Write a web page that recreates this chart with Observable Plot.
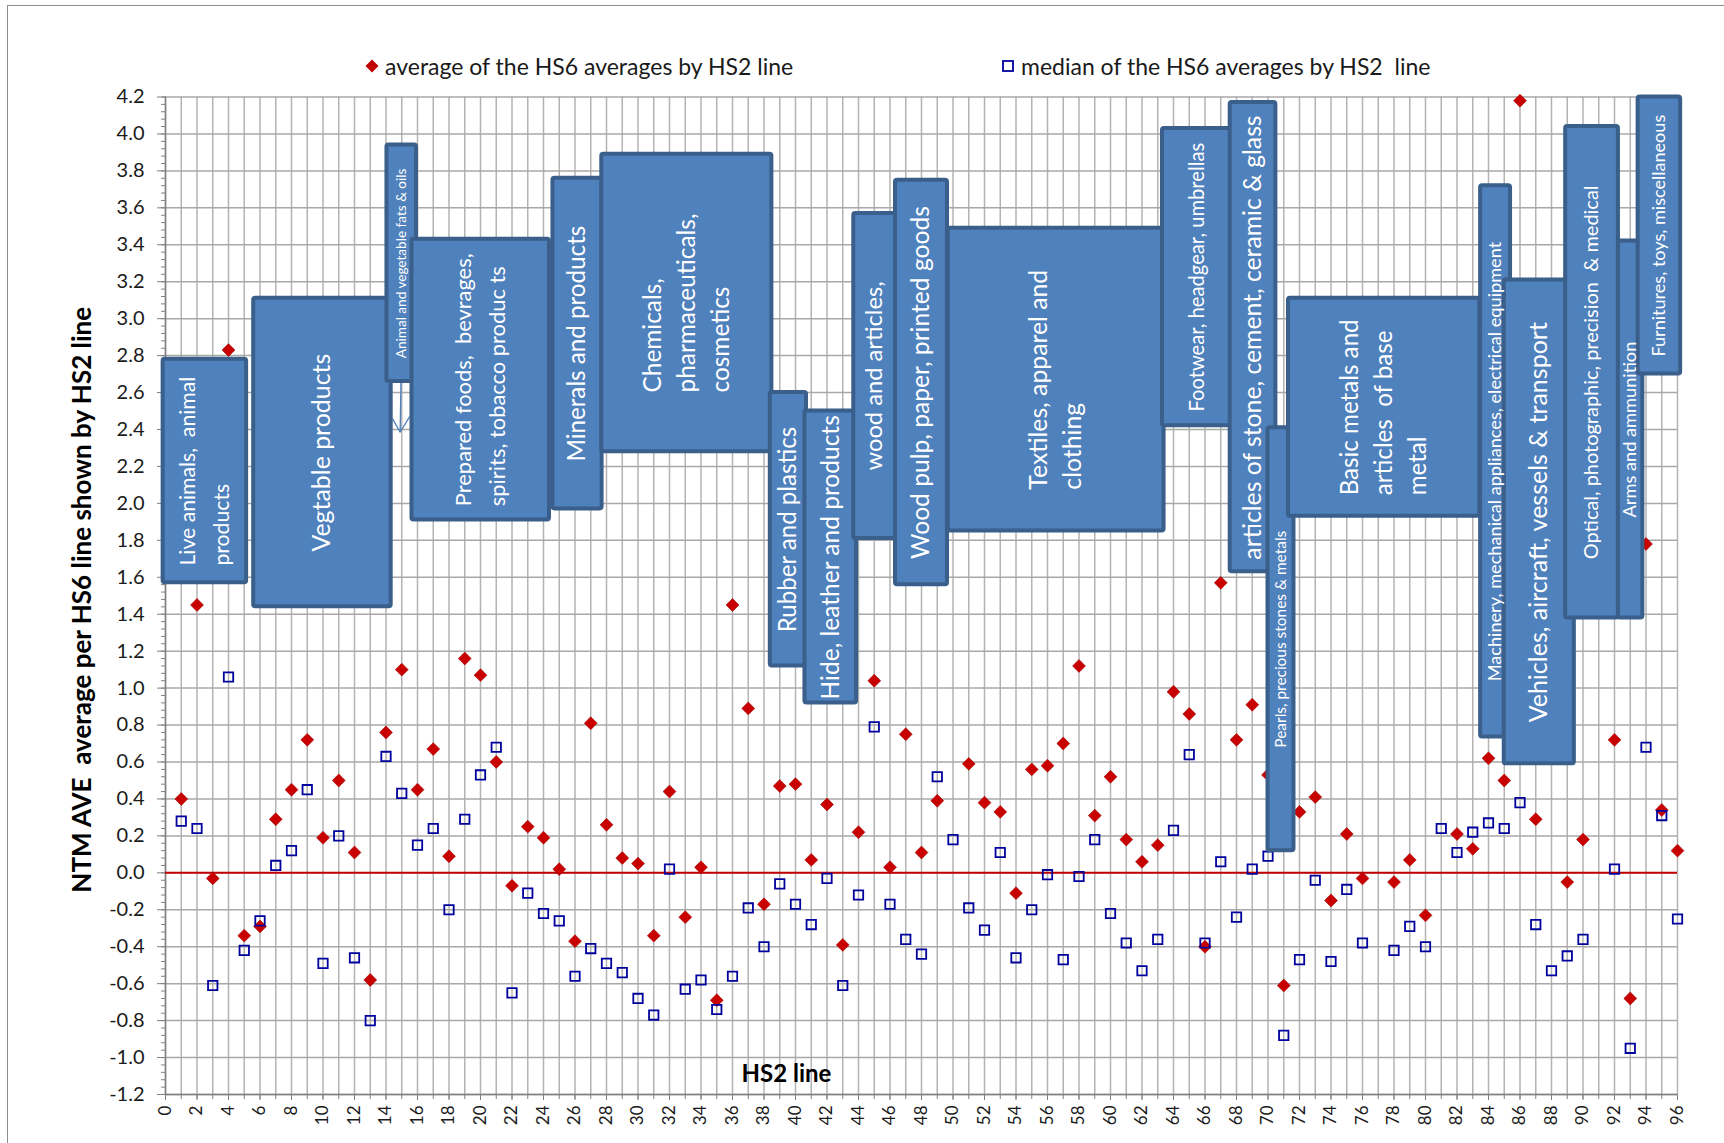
<!DOCTYPE html>
<html><head><meta charset="utf-8">
<script src="https://cdn.jsdelivr.net/npm/d3@7"></script>
<script src="https://cdn.jsdelivr.net/npm/@observablehq/plot@0.6"></script>
<style>
html,body{margin:0;padding:0;background:#fff;}
body{position:relative;width:1724px;height:1143px;overflow:hidden;font-family:Lato,"Open Sans",sans-serif;}
#border{position:absolute;z-index:5;left:7px;top:5px;width:1800px;height:1300px;border-left:1.5px solid #8c8c8c;border-top:1.5px solid #8c8c8c;pointer-events:none;}
#legend{position:relative;height:84px;}
.item{position:absolute;top:54px;height:24px;display:flex;align-items:center;font-size:23px;color:#1a1a1a;white-space:nowrap;}
.item svg{margin-right:5px;}
#chart{position:relative;}
</style></head>
<body>
<div id="border"></div>
<div id="legend">
  <div class="item" style="left:364px"><svg width="16" height="16"><path d="M8 1.5 L14.5 8 L8 14.5 L1.5 8Z" fill="#c00000"/></svg><span>average of the HS6 averages by HS2 line</span></div>
  <div class="item" style="left:1000px"><svg width="16" height="16"><rect x="3" y="3" width="10" height="10" fill="none" stroke="#00009c" stroke-width="1.8"/></svg><span>median of the HS6 averages by HS2&nbsp; line</span></div>
</div>
<div id="chart"></div>
<script>
// ---------- data ----------
const hs = d3.range(1, 97);
const avgValues = [
  0.40, 1.45, -0.03, 2.83, -0.34, -0.29, 0.29, 0.45, 0.72, 0.19,
  0.50, 0.11, -0.58, 0.76, 1.10, 0.45, 0.67, 0.09, 1.16, 1.07,
  0.60, -0.07, 0.25, 0.19, 0.02, -0.37, 0.81, 0.26, 0.08, 0.05,
  -0.34, 0.44, -0.24, 0.03, -0.69, 1.45, 0.89, -0.17, 0.47, 0.48,
  0.07, 0.37, -0.39, 0.22, 1.04, 0.03, 0.75, 0.11, 0.39, null,
  0.59, 0.38, 0.33, -0.11, 0.56, 0.58, 0.70, 1.12, 0.31, 0.52,
  0.18, 0.06, 0.15, 0.98, 0.86, -0.40, 1.57, 0.72, 0.91, 0.53,
  -0.61, 0.33, 0.41, -0.15, 0.21, -0.03, null, -0.05, 0.07, -0.23,
  null, 0.21, 0.13, 0.62, 0.50, 4.18, 0.29, null, -0.05, 0.18,
  null, 0.72, -0.68, 1.78, 0.34, 0.12
];
const medValues = [
  0.28, 0.24, -0.61, 1.06, -0.42, -0.26, 0.04, 0.12, 0.45, -0.49,
  0.20, -0.46, -0.80, 0.63, 0.43, 0.15, 0.24, -0.20, 0.29, 0.53,
  0.68, -0.65, -0.11, -0.22, -0.26, -0.56, -0.41, -0.49, -0.54, -0.68,
  -0.77, 0.02, -0.63, -0.58, -0.74, -0.56, -0.19, -0.40, -0.06, -0.17,
  -0.28, -0.03, -0.61, -0.12, 0.79, -0.17, -0.36, -0.44, 0.52, 0.18,
  -0.19, -0.31, 0.11, -0.46, -0.20, -0.01, -0.47, -0.02, 0.18, -0.22,
  -0.38, -0.53, -0.36, 0.23, 0.64, -0.38, 0.06, -0.24, 0.02, 0.09,
  -0.88, -0.47, -0.04, -0.48, -0.09, -0.38, null, -0.42, -0.29, -0.40,
  0.24, 0.11, 0.22, 0.27, 0.24, 0.38, -0.28, -0.53, -0.45, -0.36,
  null, 0.02, -0.95, 0.68, 0.31, -0.25
];
const seriesNames = ["average of the HS6 averages by HS2 line", "median of the HS6 averages by HS2 line"];
const yTicks = d3.range(-6, 22).map(i => i / 5);
const yMinor = d3.range(-30, 106).map(i => i / 25);
const xGrid = d3.range(0, 97);
const xLabels = d3.range(0, 97, 2);

// section annotation boxes (HS2 ranges in chart units)
const sections = [
  {lines: ["Live animals,\u00a0 animal", "products"], x1: -0.15, x2: 5.15, y1: 1.57, y2: 2.78},
  {lines: ["Vegtable products"], x1: 5.6, x2: 14.33, y1: 1.44, y2: 3.11},
  {lines: ["Animal and vegetable fats & oils"], x1: 14.06, x2: 15.94, y1: 2.66, y2: 3.94},
  {lines: ["Prepared foods,\u00a0 bevrages,", "spirits, tobacco produc ts"], x1: 15.65, x2: 24.38, y1: 1.91, y2: 3.43},
  {lines: ["Minerals and products"], x1: 24.6, x2: 27.72, y1: 1.97, y2: 3.76},
  {lines: ["Chemicals,", "pharmaceuticals,", "cosmetics"], x1: 27.7, x2: 38.5, y1: 2.28, y2: 3.89},
  {lines: ["Rubber and plastics"], x1: 38.4, x2: 40.7, y1: 1.12, y2: 2.6},
  {lines: ["Hide, leather and products"], x1: 40.6, x2: 43.88, y1: 0.92, y2: 2.5},
  {lines: ["wood and articles,"], x1: 43.7, x2: 46.35, y1: 1.81, y2: 3.57},
  {lines: ["Wood pulp, paper, printed goods"], x1: 46.35, x2: 49.65, y1: 1.56, y2: 3.75},
  {lines: ["Textiles, apparel and", "clothing"], x1: 49.7, x2: 63.4, y1: 1.85, y2: 3.49},
  {lines: ["Footwear, headgear, umbrellas"], x1: 63.3, x2: 67.7, y1: 2.42, y2: 4.03},
  {lines: ["articles of stone, cement, ceramic & glass"], x1: 67.6, x2: 70.5, y1: 1.63, y2: 4.17},
  {lines: ["Pearls, precious stones & metals"], x1: 70.0, x2: 71.65, y1: 0.12, y2: 2.41},
  {lines: ["Basic metals and", "articles\u00a0 of base", "metal"], x1: 71.3, x2: 83.45, y1: 1.93, y2: 3.11},
  {lines: ["Machinery, mechanical appliances, electrical equipment"], x1: 83.5, x2: 85.4, y1: 0.735, y2: 3.72},
  {lines: ["Vehicles, aircraft, vessels & transport"], x1: 85.0, x2: 89.45, y1: 0.59, y2: 3.21},
  {lines: ["Optical, photographic, precision\u00a0 & medical"], x1: 88.9, x2: 92.25, y1: 1.38, y2: 4.04},
  {lines: ["Arms and ammunition"], x1: 92.25, x2: 93.8, y1: 1.38, y2: 3.42},
  {lines: ["Furnitures, toys, miscellaneous"], x1: 93.5, x2: 96.2, y1: 2.7, y2: 4.2}
];
// callout pointer under the fats & oils box
const pointer = [
  {x1: 14.95, y1: 2.66, x2: 14.9, y2: 2.385},
  {x1: 14.4, y1: 2.46, x2: 14.9, y2: 2.385},
  {x1: 15.5, y1: 2.47, x2: 14.9, y2: 2.385}
];

// ---------- layout / style ----------
const W = 1724, H = 1059, mT = 12.5, mB = 49, mL = 165, mR = 47;
const pxPerX = (W - mL - mR) / 96;
const pxPerY = (H - mT - mB) / 5.4;
const FONT = "Lato";
// target rendered length (px) of the longest line of each box label
const labelLength = [189, 198, 190, 253, 236, 179, 206, 285, 189, 353, 220, 269, 445, 217, 176, 440, 401, 374, 176, 242];
const lineGap = 34;

const ctx = document.createElement("canvas").getContext("2d");
ctx.font = `100px ${FONT}`;
const measure = s => ctx.measureText(s).width / 100;

const labelRows = [];
sections.forEach((s, i) => {
  const unit = d3.max(s.lines, measure);
  const fs = labelLength[i] / unit;
  const maxW = unit * fs;
  const xc = (s.x1 + s.x2) / 2, yc = (s.y1 + s.y2) / 2;
  const n = s.lines.length;
  s.lines.forEach((t, j) => {
    labelRows.push({
      t, fs,
      x: xc + (j - (n - 1) / 2) * lineGap / pxPerX,
      y: yc - (maxW / 2) / pxPerY
    });
  });
});

const points = hs.map((h, i) => ({hs: h, avg: avgValues[i], med: medValues[i]}));

const chart = Plot.plot({
  width: W, height: H,
  marginTop: mT, marginBottom: mB, marginLeft: mL, marginRight: mR,
  x: {domain: [0, 96]},
  y: {domain: [-1.2, 4.2]},
  style: {fontFamily: `${FONT}, sans-serif`, background: "white", overflow: "visible"},
  marks: [
    Plot.gridX(xGrid, {stroke: "#b3b3b3", strokeOpacity: 1, strokeWidth: 1.5}),
    Plot.gridY(yTicks, {stroke: "#a8a8a8", strokeOpacity: 1, strokeWidth: 1.5}),
    Plot.axisY(yMinor, {tickSize: 4, tickFormat: () => "", label: null, stroke: "#808080"}),
    Plot.axisY(yTicks, {tickSize: 8, tickPadding: 13, tickFormat: d => d.toFixed(1), fontSize: 20, fill: "#1a1a1a", stroke: "#808080", label: null}),
    Plot.axisX(xGrid, {tickSize: 5, tickFormat: () => "", label: null, stroke: "#808080"}),
    Plot.axisX(xLabels, {tickSize: 6, tickPadding: 5, tickRotate: -90, fontSize: 17, fill: "#1a1a1a", stroke: "#808080", tickFormat: d => String(d), label: null}),
    Plot.ruleX([0], {stroke: "#808080", strokeWidth: 1.5}),
    Plot.ruleY([-1.2], {stroke: "#808080", strokeWidth: 1.5}),
    Plot.ruleY([0], {x1: 0, x2: 96, stroke: "#c00000", strokeWidth: 2}),
    Plot.dot(points.filter(d => d.avg != null), {x: "hs", y: "avg", symbol: "diamond2", r: 5.8, fill: "#c80000", stroke: "#a30000", strokeWidth: 0.6, title: d => `${seriesNames[0]}: ${d.avg}`}),
    Plot.dot(points.filter(d => d.med != null), {x: "hs", y: "med", symbol: "square", r: 5.3, fill: "none", stroke: "#00009c", strokeWidth: 1.8, title: d => `${seriesNames[1]}: ${d.med}`}),
    Plot.link(pointer, {x1: "x1", y1: "y1", x2: "x2", y2: "y2", stroke: "#4f81bd", strokeWidth: 1.3}),
    Plot.rect(sections, {x1: "x1", x2: "x2", y1: "y1", y2: "y2", fill: "#4f81bd", stroke: "#3a5f8b", strokeWidth: 4, rx: 2}),
    Plot.text(labelRows, {x: "x", y: "y", text: "t", rotate: -90, textAnchor: "start", lineAnchor: "middle", fill: "white", fontSize: d => d.fs}),
    Plot.text(["NTM AVE\u00a0 average per HS6 line shown by HS2 line"], {frameAnchor: "left", textAnchor: "middle", lineAnchor: "middle", dx: -83, dy: 4, rotate: -90, fontSize: 26, fontWeight: "bold", fill: "#000"}),
    Plot.text(["HS2 line"], {frameAnchor: "bottom", textAnchor: "middle", dx: -135, dy: -20, lineAnchor: "middle", fontSize: 24, fontWeight: "bold", fill: "#000"})
  ]
});
document.getElementById("chart").appendChild(chart);
</script>
</body></html>
